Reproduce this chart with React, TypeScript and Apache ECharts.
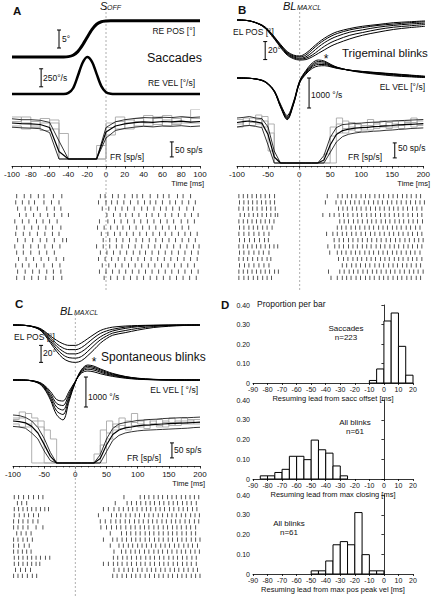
import React, { useEffect, useRef } from "react";
import * as echarts from "echarts";

const FONT = '"Liberation Sans", Arial, Helvetica, sans-serif';

// ---------------- Panel A : saccades ----------------
const timeA = [-100, -50, -45, -40, -35, -30, -25, -20, -15, -10, -5, 0, 5, 10, 100];
const rePosA = [0, 0, 0, 0.1, 0.5, 1.5, 3.3, 5.5, 7.6, 9.1, 9.8, 10.0, 10.1, 10.1, 10.1];
const reVelA = [0, 0, 0, 15, 80, 250, 430, 514, 450, 280, 110, 25, 3, 0, 0];

const frTimeA = [-100, -90, -80, -70, -60, -50, -40, -30, -20, -10, 0, 10, 20, 30, 40, 50, 60, 70, 80, 90, 100];
const frMeanA = [120, 118, 117, 115, 105, 25, 0, 0, 0, 0, 90, 110, 117, 121, 124, 122, 125, 124, 126, 123, 125];
const frUpA = [134, 131, 131, 129, 122, 60, 0, 0, 0, 0, 105, 124, 131, 135, 138, 137, 139, 138, 141, 138, 140];
const frLoA = [106, 104, 103, 101, 88, 0, 0, 0, 0, 0, 70, 95, 102, 106, 109, 107, 110, 109, 111, 108, 110];
const frTrialA1 = [125, 140, 110, 135, 120, 0, 0, 0, 0, 0, 105, 125, 100, 135, 120, 140, 110, 135, 125, 165, 165];
const frTrialA2 = [110, 100, 125, 95, 130, 85, 0, 0, 0, 0, 80, 140, 120, 110, 145, 115, 130, 120, 140, 120, 120];
const frTrialA3 = [140, 120, 105, 120, 100, 0, 0, 0, 0, 45, 120, 100, 130, 125, 110, 135, 145, 115, 120, 135, 135];

const rasterA = [
  [-95, -87, -80, -72, -66, -56, -47, -6, -1, 7, 13, 20, 28, 33, 39, 47, 55, 61, 67, 76, 82, 90],
  [-96, -89, -82, -76, -66, -58, -50, -8, 0, 6, 12, 19, 26, 34, 41, 47, 53, 60, 68, 74, 81, 88, 95],
  [-94, -86, -80, -73, -63, -55, -48, -4, 3, 10, 17, 23, 30, 38, 44, 51, 58, 64, 71, 78, 86, 93],
  [-92, -85, -77, -70, -62, -55, -47, -40, 1, 8, 15, 21, 28, 35, 43, 49, 56, 63, 70, 77, 84, 91, 98],
  [-97, -89, -82, -74, -67, -60, -52, -7, 2, 9, 16, 23, 30, 37, 44, 51, 58, 65, 72, 80, 87, 94],
  [-95, -87, -79, -72, -64, -57, -48, -9, -2, 5, 12, 18, 25, 32, 39, 46, 53, 60, 67, 74, 81, 88],
  [-96, -88, -81, -73, -65, -57, -50, -5, 2, 9, 15, 22, 29, 36, 43, 50, 57, 63, 70, 77, 84, 90, 97],
  [-94, -86, -78, -70, -63, -55, -46, -42, -3, 4, 11, 18, 25, 32, 39, 46, 53, 60, 67, 74, 81, 88, 95],
  [-97, -88, -80, -72, -65, -57, -49, -10, -3, 4, 11, 17, 24, 31, 38, 45, 52, 58, 65, 72, 79, 86, 93, 99],
  [-95, -88, -80, -71, -63, -55, -6, 1, 8, 15, 22, 29, 36, 42, 49, 56, 63, 70, 77, 84, 91, 98],
  [-93, -85, -77, -69, -61, -53, -45, -8, -1, 6, 13, 20, 27, 34, 41, 48, 55, 62, 69, 76, 83, 90, 97],
  [-96, -89, -82, -74, -66, -57, -49, -4, 3, 10, 17, 24, 31, 38, 45, 52, 59, 66, 73, 80, 87, 94],
  [-94, -86, -78, -71, -63, -56, -48, -7, 0, 7, 14, 21, 28, 35, 42, 49, 56, 63, 70, 77, 84, 91, 98],
  [-95, -87, -79, -72, -64, -56, -47, -2, 5, 12, 19, 26, 33, 40, 47, 54, 61, 68, 75, 82, 89, 96],
];

// ---------------- Panels B / C : blinks ----------------
const tTrace = [-100, -80, -60, -50, -40, -30, -20, -10, 0, 10, 20, 30, 40, 50, 60, 80, 100, 125, 150, 175, 200];

const elPosB = [
  [0, -1, -5.5, -11, -19, -27.5, -35, -39, -40, -37, -31, -25, -20, -16, -13, -9.5, -7, -5, -3, -2, -1],
  [0, -1, -6, -11.5, -19.5, -28.5, -36, -40, -41, -39, -33, -27, -22, -18, -15, -11, -8.5, -6, -4.5, -3, -2],
  [0, -1, -6, -12, -20, -29, -37, -41, -42.5, -41, -36, -30, -25, -21, -18, -13.5, -11, -8, -6, -4.5, -3.5],
  [0, -1, -6.5, -12.5, -21, -30, -38, -42, -43.5, -42.5, -39, -34, -29, -25, -22, -17, -14, -10.5, -8, -6.5, -5],
  [0, -1, -6.5, -13, -21.5, -31, -39, -43, -44.5, -44, -41, -37, -33, -29, -26, -21, -17, -13.5, -10.5, -8.5, -7],
];
const elVelB = [
  [0, -10, -70, -190, -430, -900, -1250, -800, -90, 250, 500, 600, 560, 450, 360, 250, 180, 120, 70, 40, 15],
  [0, -10, -80, -200, -450, -940, -1300, -840, -110, 220, 450, 550, 530, 430, 350, 255, 195, 140, 95, 55, 25],
  [0, -10, -80, -210, -460, -960, -1330, -860, -130, 190, 410, 500, 490, 410, 340, 260, 210, 160, 115, 75, 35],
  [0, -10, -85, -215, -470, -980, -1360, -880, -150, 160, 370, 450, 450, 390, 330, 260, 215, 170, 130, 90, 50],
  [0, -10, -90, -220, -480, -1000, -1390, -900, -170, 130, 320, 400, 410, 370, 320, 260, 220, 180, 140, 100, 60],
];
const elPosC = [
  [0, -0.5, -3, -7, -13, -18, -22, -24, -24, -21, -16, -11, -6.5, -4, -2.5, -1.2, -0.6, -0.2, 0, 0, 0],
  [0, -0.5, -3.5, -8, -15, -22, -27, -29, -29, -26.5, -21, -15, -10, -7, -5, -2.5, -1.2, -0.5, -0.2, 0, 0],
  [0, -0.5, -4, -9, -17, -25, -31, -34, -34, -31.5, -26, -19.5, -14, -10, -7, -4, -2, -0.8, -0.3, 0, 0],
  [0, -0.5, -4, -10, -19, -28, -35, -38.5, -39, -37, -31, -24, -17.5, -13, -9.5, -6.5, -4, -1.8, -0.7, -0.2, 0],
  [0, -0.5, -4.5, -11, -21, -31, -39, -43, -44, -42, -36, -29, -21.5, -16, -12, -9, -6, -3, -1.5, -0.5, 0],
];
const elVelC = [
  [0, -5, -60, -170, -380, -650, -700, -380, -40, 230, 300, 270, 210, 160, 120, 60, 25, 8, 0, 0, 0],
  [0, -5, -70, -200, -450, -780, -850, -460, -50, 270, 360, 330, 260, 195, 150, 80, 35, 10, 0, 0, 0],
  [0, -5, -80, -230, -520, -900, -1000, -540, -60, 300, 410, 380, 300, 230, 175, 95, 45, 15, 3, 0, 0],
  [0, -5, -90, -260, -590, -1030, -1150, -620, -70, 330, 460, 420, 340, 260, 200, 110, 55, 20, 5, 0, 0],
  [0, -5, -100, -290, -660, -1160, -1330, -700, -80, 350, 500, 460, 370, 290, 220, 120, 60, 25, 6, 0, 0],
];

const frTimeBC = [-100, -90, -80, -70, -60, -50, -40, -30, -20, -10, 0, 10, 20, 30, 40, 50, 60, 70, 80, 90, 100, 110, 120, 130, 140, 150, 160, 170, 180, 190, 200];
const frMeanB = [135, 138, 140, 137, 133, 95, 20, 0, 0, 0, 0, 0, 0, 0, 10, 60, 95, 108, 113, 116, 118, 119, 121, 122, 124, 125, 127, 128, 129, 130, 131];
const frUpB = [150, 152, 155, 150, 148, 120, 40, 0, 0, 0, 0, 0, 0, 0, 25, 85, 118, 128, 130, 132, 133, 135, 136, 137, 139, 140, 141, 142, 143, 144, 145];
const frLoB = [120, 123, 125, 122, 118, 60, 0, 0, 0, 0, 0, 0, 0, 0, 0, 35, 70, 88, 96, 100, 103, 104, 106, 107, 109, 110, 112, 113, 115, 116, 117];
const frTrialB1 = [130, 150, 125, 160, 140, 100, 0, 0, 0, 0, 0, 0, 0, 0, 0, 120, 100, 140, 110, 130, 120, 145, 115, 125, 135, 120, 140, 130, 150, 125, 125];
const frTrialB2 = [145, 125, 150, 130, 155, 40, 0, 0, 0, 0, 0, 0, 0, 0, 30, 90, 130, 115, 135, 105, 125, 110, 135, 120, 115, 140, 125, 135, 120, 140, 140];
const frTrialB3 = [120, 140, 135, 145, 120, 130, 0, 0, 0, 0, 0, 0, 0, 0, 0, 0, 150, 100, 120, 130, 110, 125, 130, 140, 120, 130, 115, 140, 135, 130, 130];

const frMeanC = [140, 138, 134, 122, 100, 62, 22, 0, 0, 0, 0, 0, 0, 0, 15, 60, 95, 110, 117, 120, 124, 126, 127, 129, 130, 131, 132, 133, 134, 135, 136];
const frUpC = [160, 158, 152, 140, 118, 82, 35, 0, 0, 0, 0, 0, 0, 0, 28, 80, 115, 130, 135, 138, 142, 143, 145, 146, 148, 149, 150, 151, 151, 152, 153];
const frLoC = [122, 120, 116, 100, 80, 40, 8, 0, 0, 0, 0, 0, 0, 0, 0, 38, 75, 92, 100, 104, 107, 109, 110, 111, 112, 113, 114, 115, 116, 118, 119];
const frTrialC1 = [150, 170, 130, 0, 0, 0, 0, 0, 0, 0, 0, 0, 0, 0, 60, 140, 120, 150, 110, 165, 130, 125, 140, 120, 135, 150, 125, 140, 130, 145, 145];
const frTrialC2 = [130, 120, 165, 150, 140, 0, 0, 0, 0, 0, 0, 0, 0, 30, 110, 100, 130, 115, 140, 125, 120, 145, 130, 125, 140, 125, 135, 150, 140, 130, 130];
const frTrialC3 = [145, 150, 120, 140, 120, 110, 80, 0, 0, 0, 0, 0, 0, 0, 0, 80, 110, 125, 120, 135, 140, 115, 130, 145, 120, 135, 140, 130, 145, 135, 135];

const rasterB = [
  [-97, -90, -83, -76, -69, -62, -55, -48, -40, 44, 61, 68, 76, 83, 90, 98, 105, 112, 120, 127, 134, 142, 149, 156, 164, 171, 178, 186, 193],
  [-96, -89, -82, -75, -68, -61, -54, -47, -40, 41, 58, 66, 73, 81, 88, 95, 103, 110, 118, 125, 132, 140, 147, 155, 162, 170, 177, 185, 192, 199],
  [-97, -90, -82, -75, -68, -60, -53, -46, -39, 62, 69, 76, 84, 91, 98, 106, 113, 121, 128, 135, 143, 150, 157, 165, 172, 180, 187, 195],
  [-95, -88, -81, -74, -67, -60, -53, -46, -39, -35, 37, 48, 55, 63, 70, 77, 85, 92, 99, 107, 114, 121, 129, 136, 143, 151, 158, 165, 173, 180, 188, 195],
  [-97, -90, -83, -76, -69, -62, -55, -48, -41, 64, 71, 78, 86, 93, 100, 108, 115, 122, 130, 137, 144, 152, 159, 166, 174, 181, 188, 196],
  [-96, -89, -81, -74, -67, -59, -52, -44, 60, 67, 74, 82, 89, 96, 104, 111, 118, 126, 133, 140, 148, 155, 162, 170, 177, 185, 192],
  [-97, -89, -81, -73, -65, -57, -49, 43, 53, 60, 68, 75, 83, 90, 98, 105, 113, 120, 128, 135, 143, 150, 158, 165, 173, 180, 188, 195],
  [-96, -88, -80, -72, -64, -56, -50, 55, 63, 70, 78, 85, 93, 100, 108, 115, 123, 130, 138, 145, 153, 160, 168, 175, 183, 190, 197],
  [-97, -90, -83, -76, -69, -62, -55, -48, -41, -35, 45, 56, 63, 70, 78, 85, 92, 100, 107, 114, 122, 129, 136, 144, 151, 158, 166, 173, 180, 188, 195],
  [-96, -89, -81, -73, -65, -58, -49, 48, 60, 67, 74, 82, 89, 96, 104, 111, 118, 126, 133, 140, 148, 155, 162, 170, 177, 184, 192],
  [-97, -90, -83, -75, -67, -60, -52, -46, 62, 70, 77, 85, 92, 99, 107, 114, 121, 129, 136, 143, 151, 158, 165, 173, 180, 187, 195],
  [-96, -88, -81, -73, -65, -57, -49, 68, 75, 83, 90, 97, 105, 112, 120, 127, 134, 142, 149, 156, 164, 171, 178, 186, 193],
  [-97, -90, -83, -76, -69, -62, -55, -48, -40, -34, 46, 64, 71, 79, 86, 93, 101, 108, 116, 123, 130, 138, 145, 152, 160, 167, 175, 182, 189, 197],
  [-97, -89, -82, -74, -67, -59, -52, -45, 50, 60, 68, 75, 82, 90, 97, 105, 112, 119, 127, 134, 141, 149, 156, 163, 171, 178, 186, 193],
];

const rasterC = [
  [-98, -91, -83, -75, -67, -59, -52, 78, 104, 111, 118, 126, 133, 140, 148, 155, 162, 170, 177, 184, 191, 198],
  [-93, -86, -78, 64, 83, 90, 98, 105, 113, 120, 127, 135, 142, 150, 157, 164, 172, 179, 186, 194],
  [-98, -91, -84, -77, -70, -63, -56, -49, -43, 45, 53, 62, 70, 77, 85, 92, 99, 107, 114, 121, 129, 136, 143, 151, 158, 166, 173, 180, 188, 195],
  [-98, -90, -82, -75, -67, -59, 37, 58, 66, 73, 81, 88, 96, 103, 111, 118, 125, 133, 140, 148, 155, 162, 170, 177, 185, 192, 199],
  [-99, -91, -84, -76, -68, -60, 40, 48, 57, 65, 72, 80, 87, 95, 102, 109, 117, 124, 131, 139, 146, 154, 161, 168, 176, 183, 191, 198],
  [-99, -92, -84, -76, -63, -52, 41, 50, 58, 66, 73, 81, 89, 96, 104, 111, 118, 126, 133, 141, 148, 156, 163, 170, 178, 185, 193],
  [-94, -87, -79, -71, 56, 74, 82, 89, 97, 104, 112, 119, 126, 134, 141, 149, 156, 163, 171, 178, 186, 193],
  [-99, -92, -84, -77, -69, 45, 60, 67, 75, 82, 90, 97, 104, 112, 119, 127, 134, 141, 149, 156, 164, 171, 178, 186, 193, 200],
  [-99, -91, -82, -74, 56, 70, 77, 85, 92, 100, 107, 114, 122, 129, 137, 144, 151, 159, 166, 174, 181, 188, 196],
  [-99, -92, -85, -78, -71, 62, 74, 81, 89, 96, 103, 111, 118, 126, 133, 140, 148, 155, 163, 170, 177, 185, 192, 199],
  [-98, -91, -84, -77, -70, -63, -56, -48, -41, 61, 68, 76, 83, 90, 98, 105, 113, 120, 127, 135, 142, 150, 157, 164, 172, 179, 187, 194],
  [-98, -91, -84, -77, -70, -63, -57, 45, 53, 61, 68, 75, 83, 90, 98, 105, 112, 120, 127, 135, 142, 149, 157, 164, 172, 179, 186, 194],
  [-96, -88, -80, -72, 62, 70, 78, 85, 92, 100, 107, 115, 122, 129, 137, 144, 152, 159, 166, 174, 181, 189, 196],
  [-99, -92, -85, -77, -69, -62, 60, 67, 75, 82, 90, 97, 104, 112, 119, 127, 134, 141, 149, 156, 164, 171, 178, 186, 193, 200],
];

// ---------------- Panel D : histograms ----------------
const binWidth = 5;
const histSaccStarts = [-10, -5, 0, 5, 10, 15];
const histSaccValues = [0.013, 0.072, 0.318, 0.359, 0.188, 0.04];
const histCloseStarts = [-85, -80, -75, -70, -65, -60, -55, -50, -45, -40, -35, -30];
const histCloseValues = [0.016, 0.016, 0.033, 0.049, 0.115, 0.115, 0.098, 0.197, 0.148, 0.131, 0.066, 0.016];
const histPeakStarts = [-50, -45, -40, -35, -30, -25, -20, -15, -10, -5];
const histPeakValues = [0.016, 0.016, 0.066, 0.148, 0.164, 0.148, 0.311, 0.098, 0.016, 0.016];

function buildOption() {
  const grid: any[] = [];
  const xAxis: any[] = [];
  const yAxis: any[] = [];
  const series: any[] = [];
  const add = (g: any, x: any, y: any) => {
    const i = grid.length;
    grid.push(g);
    xAxis.push({ gridIndex: i, ...x });
    yAxis.push({ gridIndex: i, ...y });
    return i;
  };
  const hx = (min: number, max: number) => ({ type: "value", min, max, show: false });
  const hy = (min: number, max: number, inverse = false) => ({ type: "value", min, max, show: false, inverse });
  const zip = (t: number[], v: number[]) => t.map((x, i) => [x, v[i]]);
  const line = (i: number, data: any[], lineStyle: any, extra: any = {}) =>
    series.push({
      type: "line", xAxisIndex: i, yAxisIndex: i, data, symbol: "none", showSymbol: false,
      silent: true, lineStyle: { color: "#000", width: 1, ...lineStyle }, ...extra,
    });
  const scaleBar = (i: number, t: number, v1: number, v2: number) =>
    series.push({
      type: "line", xAxisIndex: i, yAxisIndex: i, data: [[t, v1], [t, v2]], symbol: "rect",
      symbolSize: [4, 1], showSymbol: true, silent: true, clip: false,
      lineStyle: { color: "#000", width: 1 }, itemStyle: { color: "#000" },
    });
  const guide = (i: number) =>
    line(i, [[0, 0], [0, 1]], { color: "#9a9a9a", width: 0.8, type: [2, 2] }, { z: 1 });
  const raster = (i: number, rows: number[][]) =>
    series.push({
      type: "scatter", xAxisIndex: i, yAxisIndex: i, silent: true,
      data: rows.flatMap((r, k) => r.map((t) => [t, k])),
      symbol: "rect", symbolSize: [0.9, 4.2], itemStyle: { color: "#111" },
    });
  const timeAxis = (min: number, max: number, interval: number, minor: number) => ({
    type: "value", min, max, interval, show: true,
    axisLine: { show: true, onZero: false, lineStyle: { color: "#000", width: 0.8 } },
    axisTick: { show: true, length: 2.5, lineStyle: { color: "#000", width: 0.8 } },
    minorTick: { show: true, splitNumber: minor, length: 1.5, lineStyle: { color: "#000", width: 0.6 } },
    axisLabel: { show: true, fontSize: 8, fontFamily: FONT, color: "#111", margin: 4 },
    splitLine: { show: false },
    minorSplitLine: { show: false },
  });
  const frBlock = (i: number, t: number[], trials: number[][], mean: number[], up: number[], lo: number[]) => {
    trials.forEach((tr) => line(i, zip(t, tr), { color: "#a8a8a8", width: 0.9 }, { step: "end" }));
    line(i, zip(t, up), { color: "#000", width: 0.8 });
    line(i, zip(t, lo), { color: "#000", width: 0.8 });
    line(i, zip(t, mean), { color: "#000", width: 1.2 });
  };

  // ----- Panel A -----
  const PA = { left: 12, width: 188 };
  const aG = add({ ...PA, top: 8, height: 282 }, hx(-100, 100), hy(0, 1));
  guide(aG);
  const aP = add({ ...PA, top: 15, height: 46 }, hx(-100, 100), hy(-1.11, 11.67));
  line(aP, zip(timeA, rePosA), { width: 3 }, { smooth: 0.2 });
  scaleBar(aP, -50, 2.5, 7.5);
  const aV = add({ ...PA, top: 52, height: 46 }, hx(-100, 100), hy(-55.6, 583));
  line(aV, zip(timeA, reVelA), { width: 2.5 }, { smooth: 0.3 });
  scaleBar(aV, -69, 100, 350);
  const aF = add({ ...PA, top: 110, height: 56 }, timeAxis(-100, 100, 20, 2), hy(-23.3, 163.3));
  frBlock(aF, frTimeA, [frTrialA1, frTrialA2, frTrialA3], frMeanA, frUpA, frLoA);
  scaleBar(aF, 70, 7, 57);
  const aR = add({ ...PA, top: 193, height: 88 }, hx(-100, 100), hy(-0.5, 13.5, true));
  raster(aR, rasterA);

  // ----- Panel B -----
  const PB = { left: 237, width: 188 };
  const bG = add({ ...PB, top: 8, height: 282 }, hx(-100, 200), hy(0, 1));
  guide(bG);
  const bP = add({ ...PB, top: 12, height: 58 }, hx(-100, 200), hy(-55.6, 8.9));
  elPosB.forEach((v) => line(bP, zip(tTrace, v), { width: 1 }, { smooth: 0.35 }));
  scaleBar(bP, -55, -44, -24);
  const bV = add({ ...PB, top: 55, height: 70 }, hx(-100, 200), hy(-1567, 767));
  elVelB.forEach((v) => line(bV, zip(tTrace, v), { width: 1 }, { smooth: 0.35 }));
  scaleBar(bV, 15, -1000, 0);
  const bF = add({ ...PB, top: 110, height: 56 }, timeAxis(-100, 200, 50, 5), hy(-10, 176.7));
  frBlock(bF, frTimeBC, [frTrialB1, frTrialB2, frTrialB3], frMeanB, frUpB, frLoB);
  scaleBar(bF, 154, 17, 67);
  const bR = add({ ...PB, top: 193, height: 88 }, hx(-100, 200), hy(-0.5, 13.5, true));
  raster(bR, rasterB);

  // ----- Panel C -----
  const PC = { left: 13, width: 187 };
  const cG = add({ ...PC, top: 313, height: 283 }, hx(-100, 200), hy(0, 1));
  guide(cG);
  const cP = add({ ...PC, top: 315, height: 55 }, hx(-100, 200), hy(-53, 11.8));
  elPosC.forEach((v) => line(cP, zip(tTrace, v), { width: 1 }, { smooth: 0.35 }));
  scaleBar(cP, -55, -44, -24);
  const cV = add({ ...PC, top: 360, height: 68 }, hx(-100, 200), hy(-1600, 667));
  elVelC.forEach((v) => line(cV, zip(tTrace, v), { width: 1 }, { smooth: 0.35 }));
  scaleBar(cV, 17, -900, 100);
  const cF = add({ ...PC, top: 405, height: 61 }, timeAxis(-100, 200, 50, 5), hy(-10, 193.3));
  frBlock(cF, frTimeBC, [frTrialC1, frTrialC2, frTrialC3], frMeanC, frUpC, frLoC);
  scaleBar(cF, 155, 17, 67);
  const cR = add({ ...PC, top: 494, height: 85 }, hx(-100, 200), hy(-0.5, 13.5, true));
  raster(cR, rasterC);

  // ----- Panel D -----
  const PD = { left: 253, width: 160 };
  const histX = (name: string) => ({
    type: "value", min: -90, max: 20, interval: 10, name, nameLocation: "middle", nameGap: 11,
    nameTextStyle: { fontSize: 7.5, fontFamily: FONT, color: "#111" },
    axisLine: { show: true, onZero: false, lineStyle: { color: "#000", width: 0.8 } },
    axisTick: { show: true, length: 2, lineStyle: { color: "#000", width: 0.8 } },
    axisLabel: { fontSize: 7, fontFamily: FONT, color: "#111", margin: 3 },
    splitLine: { show: false },
  });
  const histY = {
    type: "value", min: 0, max: 0.4, interval: 0.1,
    axisLine: { show: true, lineStyle: { color: "#000", width: 0.8 } },
    axisTick: { show: true, length: 2.5, lineStyle: { color: "#000", width: 0.8 } },
    axisLabel: {
      fontSize: 7, fontFamily: FONT, color: "#111", margin: 3,
      formatter: (v: number) => (v === 0 ? "0" : v.toFixed(2)),
    },
    splitLine: { show: false },
  };
  const hist = (i: number, starts: number[], vals: number[]) =>
    series.push({
      type: "custom", xAxisIndex: i, yAxisIndex: i, silent: true,
      data: starts.map((s, k) => [s, s + binWidth, vals[k]]),
      encode: { x: [0, 1], y: 2 },
      renderItem: (_p: any, api: any) => {
        const a = api.coord([api.value(0), api.value(2)]);
        const b = api.coord([api.value(1), 0]);
        return {
          type: "rect",
          shape: { x: a[0], y: a[1], width: b[0] - a[0], height: b[1] - a[1] },
          style: { fill: "#fff", stroke: "#000", lineWidth: 1 },
        };
      },
    });
  const d1 = add({ ...PD, top: 305, height: 78 }, histX("Resuming lead from sacc offset [ms]"), histY);
  hist(d1, histSaccStarts, histSaccValues);
  const d2 = add({ ...PD, top: 400, height: 79 }, histX("Resuming lead from max closing [ms]"), histY);
  hist(d2, histCloseStarts, histCloseValues);
  const d3 = add({ ...PD, top: 495, height: 79 }, histX("Resuming lead from max pos peak vel [ms]"), histY);
  hist(d3, histPeakStarts, histPeakValues);

  // ----- texts -----
  const T = (text: string, x: number, y: number, size: number, align = "left", opts: any = {}) => ({
    type: "text", x, y, silent: true, z: 10,
    style: {
      text,
      font: `${opts.italic ? "italic" : "normal"} ${opts.bold ? "bold" : "normal"} ${size}px ${FONT}`,
      fill: "#111", align, textAlign: align,
      verticalAlign: opts.va || "middle", textVerticalAlign: opts.va || "middle",
    },
  });
  const graphic = [
    T("A", 13, 11, 11.5, "left", { bold: true }),
    T("S", 100, 11, 11, "left", { italic: true, va: "bottom" }),
    T("OFF", 107, 10.5, 7, "left", { italic: true, va: "bottom" }),
    T("RE POS [°]", 195, 31, 8.5, "right"),
    T("5°", 62, 39, 8.5),
    T("Saccades", 147, 58, 12.5),
    T("250°/s", 43, 78, 8.5),
    T("RE VEL [°/s]", 195, 83, 8.5, "right"),
    T("FR [sp/s]", 110, 157, 8.5),
    T("50 sp/s", 175, 150, 8.5),
    T("Time [ms]", 204, 183, 7.5, "right"),

    T("B", 238, 10, 11.5, "left", { bold: true }),
    T("BL", 283, 11, 11, "left", { italic: true, va: "bottom" }),
    T("MAXCL", 297, 10.5, 7, "left", { italic: true, va: "bottom" }),
    T("EL POS [°]", 233, 32, 8.5),
    T("20°", 268, 50, 8.5),
    T("Trigeminal blinks", 342, 53, 11.5),
    T("*", 326, 59, 12, "center"),
    T("EL VEL [°/s]", 425, 87, 8.5, "right"),
    T("1000 °/s", 311, 95, 8.5),
    T("50 sp/s", 398, 148, 8.5),
    T("FR [sp/s]", 348, 157, 8.5),
    T("Time [ms]", 430, 183, 7.5, "right"),

    T("C", 15, 304, 11.5, "left", { bold: true }),
    T("BL", 60, 316, 11, "left", { italic: true, va: "bottom" }),
    T("MAXCL", 74, 315.5, 7, "left", { italic: true, va: "bottom" }),
    T("EL POS [°]", 14, 337, 8.5),
    T("20°", 43, 353, 8.5),
    T("*", 94, 362, 12, "center"),
    T("Spontaneous blinks", 101, 357, 12),
    T("EL VEL [ °/s]", 198, 390, 8.5, "right"),
    T("1000 °/s", 88, 397, 8.5),
    T("50 sp/s", 174, 450, 8.5),
    T("FR [sp/s]", 127, 458, 8.5),
    T("Time [ms]", 205, 483, 7.5, "right"),

    T("D", 221, 305, 11.5, "left", { bold: true }),
    T("Proportion per bar", 257, 304, 8.5),
    T("Saccades", 346, 328, 8, "center"),
    T("n=223", 346, 337, 8, "center"),
    T("All blinks", 355, 422, 8, "center"),
    T("n=61", 355, 431, 8, "center"),
    T("All blinks", 289, 523, 8, "center"),
    T("n=61", 289, 532, 8, "center"),
  ];

  return {
    animation: false,
    backgroundColor: "#fff",
    textStyle: { fontFamily: FONT },
    grid, xAxis, yAxis, series, graphic,
  };
}

export default function App() {
  const ref = useRef<HTMLDivElement>(null);
  useEffect(() => {
    if (!ref.current) return;
    const chart = echarts.init(ref.current, undefined, { renderer: "svg" });
    chart.setOption(buildOption() as any);
    return () => chart.dispose();
  }, []);
  return (
    <div
      ref={ref}
      style={{ position: "absolute", left: 0, top: 0, width: 433, height: 596, background: "#fff" }}
    />
  );
}
